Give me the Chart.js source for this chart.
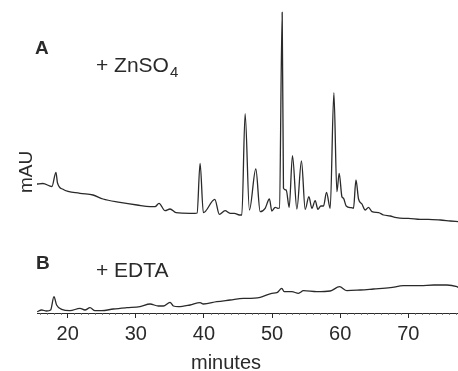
<!DOCTYPE html>
<html>
<head>
<meta charset="utf-8">
<script src="https://cdn.jsdelivr.net/npm/chart.js@4"></script>
<style>
  html, body { margin:0; padding:0; background:#fff; }
  #wrap { width:458px; height:371px; position:relative; }
</style>
</head>
<body>
<div id="wrap"><canvas id="chromatograma"></canvas></div>
<script>
// ===============================
// DADOS (minutos / sinal mAU, unidades relativas)
// ===============================
const tempoA = [15.49,16.37,17.69,18.28,18.50,19.31,21.81,23.72,25.19,27.68,30.18,32.09,32.83,33.41,34.30,35.03,35.91,37.97,
  38.71,39.00,39.44,39.92,41.60,42.27,43.11,43.85,44.48,45.21,45.57,46.05,46.68,47.62,48.26,48.99,49.62,49.97,50.46,50.86,51.09,
  51.49,51.68,52.08,52.52,53.00,53.65,54.32,54.87,55.41,55.85,56.34,56.73,57.17,57.56,58.00,58.54,59.08,59.52,59.86,60.26,60.49,
  60.89,61.63,61.96,62.32,62.70,63.20,63.68,64.17,64.67,65.64,66.37,67.36,68.05,69.31,70.00,71.76,72.94,74.70,76.17,77.34];
const sinalA = [129,129.5,126.5,140.7,130.3,123.7,119.7,118,114,110.7,108,106.3,106.3,109.7,102.3,104,100.3,99.7,
  99.7,100,149.7,100.3,113.7,98.7,102.3,99.7,99.7,98,98,199.3,103,144,101.3,104.7,114,102,105.7,104.7,105,
  300.7,124.7,123,105.7,157.3,104,152,103.7,116.3,104.7,112.3,103.7,107,107,120.7,104.7,220.3,121.3,139.7,116.3,114.7,
  107,105.3,104.7,133,114,109,103,105.7,101.3,100.3,98,97,95.7,94.7,94.7,93.7,93.7,93,92,91.3];

const tempoB = [15.53,16.18,16.91,17.50,17.99,18.38,19.12,20.34,21.81,22.54,23.28,24.01,25.00,26.70,28.67,30.62,32.09,33.31,
  34.05,35.03,35.52,36.25,37.97,39.44,39.92,41.89,43.85,45.80,46.30,48.26,49.97,50.71,51.44,51.78,52.91,53.88,54.62,56.58,
  58.54,59.91,60.99,62.95,64.90,67.36,69.31,71.76,73.72,75.68,77.15,77.34];
const sinalB = [1.3,3,2,3,16.3,8,3.7,2.3,4.7,3,5.3,2.3,2.3,4,5.3,6.3,9,7,
  7,10.7,7,6.3,8,10.3,9,11.3,13,14.7,14.7,15.7,19.7,20.3,24.7,21.3,21.3,19.7,22.3,21.3,
  22,26.3,22.3,23,24,25.3,27.3,27.3,28,28,26.3,25.7];

const ticksX = [20,30,40,50,60,70];
const rotulos = [
  { txt:"A", fonte:"bold 19px 'Liberation Sans', Arial, sans-serif", x:35, y:54 },
  { txt:"B", fonte:"bold 19px 'Liberation Sans', Arial, sans-serif", x:36, y:269 },
  { txt:"+ EDTA", fonte:"21px 'Liberation Sans', Arial, sans-serif", x:96, y:277 }
];

const COR = "#2a2a2a";
const FONTE = "'Liberation Sans', Arial, sans-serif";

function pontos(xs, ys){
  return xs.map((x,i) => ({ x:x, y:ys[i] }));
}

// ===============================
// TEXTOS E TICKS MENORES
// ===============================
const anotacoes = {
  id: "anotacoes",
  afterDraw(chart){
    const ctx = chart.ctx;
    const sx = chart.scales.x;
    const area = chart.chartArea;
    ctx.save();
    ctx.fillStyle = COR;
    ctx.textBaseline = "alphabetic";
    ctx.textAlign = "left";

    rotulos.forEach(r => {
      ctx.font = r.fonte;
      ctx.fillText(r.txt, r.x, r.y);
    });

    // + ZnSO4 com subscrito
    ctx.font = "21px " + FONTE;
    ctx.fillText("+ ZnSO", 96, 72);
    const w = ctx.measureText("+ ZnSO").width;
    ctx.font = "15px " + FONTE;
    ctx.fillText("4", 96 + w + 1, 77);

    // titulo x
    ctx.font = "20px " + FONTE;
    ctx.textAlign = "center";
    ctx.fillText("minutes", 226, 369);

    // titulo y
    ctx.save();
    ctx.translate(32, 172);
    ctx.rotate(-Math.PI/2);
    ctx.font = "19px " + FONTE;
    ctx.fillText("mAU", 0, 0);
    ctx.restore();

    // ticks menores
    ctx.strokeStyle = "#666";
    ctx.lineWidth = 0.8;
    ctx.beginPath();
    for(let m = 16; m <= 77; m++){
      if(m % 10 === 0) continue;
      const px = Math.round(sx.getPixelForValue(m)) + 0.5;
      ctx.moveTo(px, area.bottom);
      ctx.lineTo(px, area.bottom + 2);
    }
    ctx.stroke();
    ctx.restore();
  }
};

// ===============================
// GRAFICO
// ===============================
function criarGrafico(){
  const ctx = document.getElementById("chromatograma");

  new Chart(ctx, {
    type: "line",
    data: {
      datasets: [
        {
          label: "+ ZnSO4",
          data: pontos(tempoA, sinalA),
          borderColor: COR,
          borderWidth: 1.3,
          pointRadius: 0,
          fill: false,
          cubicInterpolationMode: "monotone"
        },
        {
          label: "+ EDTA",
          data: pontos(tempoB, sinalB),
          borderColor: COR,
          borderWidth: 1.3,
          pointRadius: 0,
          fill: false,
          cubicInterpolationMode: "monotone"
        }
      ]
    },
    options: {
      responsive: true,
      maintainAspectRatio: false,
      animation: false,
      layout: { padding: { left:37, right:0, top:0, bottom:0 } },
      plugins: {
        legend: { display:false },
        tooltip: { enabled:false }
      },
      scales: {
        x: {
          type: "linear",
          min: 15.5,
          max: 77.3,
          afterFit(scale){ scale.height = 58; },
          afterBuildTicks(scale){ scale.ticks = ticksX.map(v => ({ value:v })); },
          ticks: {
            color: COR,
            padding: 4,
            font: { family: FONTE, size: 20 },
            maxRotation: 0,
            autoSkip: false
          },
          grid: {
            drawOnChartArea: false,
            drawTicks: true,
            tickLength: 5,
            color: COR
          },
          border: { display:true, color: COR, width: 1 }
        },
        y: {
          display: false,
          min: 0,
          max: 313
        }
      }
    },
    plugins: [anotacoes]
  });
}

document.addEventListener("DOMContentLoaded", () => {
  criarGrafico();
});
</script>
</body>
</html>
